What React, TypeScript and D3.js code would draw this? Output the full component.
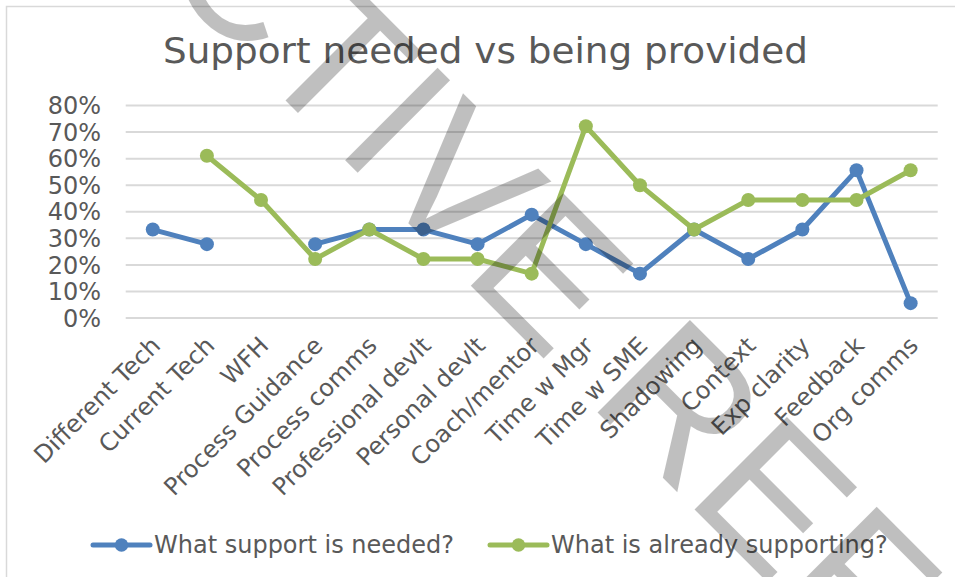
import React from "react";
import * as d3 from "d3";

const categories = [
  "Different Tech",
  "Current Tech",
  "WFH",
  "Process Guidance",
  "Process comms",
  "Professional devlt",
  "Personal devlt",
  "Coach/mentor",
  "Time w Mgr",
  "Time w SME",
  "Shadowing",
  "Context",
  "Exp clarity",
  "Feedback",
  "Org comms",
];
const needed: (number | null)[] = [
  0.333, 0.278, null, 0.278, 0.333, 0.333, 0.278, 0.389, 0.278, 0.167, 0.333, 0.222, 0.333, 0.556, 0.056,
];
const supporting: (number | null)[] = [
  null, 0.611, 0.444, 0.222, 0.333, 0.222, 0.222, 0.167, 0.722, 0.5, 0.333, 0.444, 0.444, 0.444, 0.556,
];
const yTicks = [0, 0.1, 0.2, 0.3, 0.4, 0.5, 0.6, 0.7, 0.8];
const seriesNames = ["What support is needed?", "What is already supporting?"];
const title = "Support needed vs being provided";
const watermark = "ACTIVE REFERENCE";

const W = 955;
const H = 577;
const BLUE = "#4f81bd";
const GREEN = "#9bbb59";
const TEXT = "#595959";
const FONT = "'DejaVu Sans', Verdana, sans-serif";

export default function App() {
  const x = d3.scaleBand<string>().domain(categories).range([125.7, 937.7]);
  const y = d3.scaleLinear().domain([0, 0.8]).range([318, 105.5]);
  const cx = (c: string) => (x(c) as number) + x.bandwidth() / 2;

  const line = d3
    .line<number | null>()
    .defined((d) => d !== null)
    .x((_, i) => cx(categories[i]))
    .y((d) => y(d as number));

  const series = [
    { name: seriesNames[0], values: needed, color: BLUE },
    { name: seriesNames[1], values: supporting, color: GREEN },
  ];

  const legend = [
    { lineX: 93, lineX2: 150, textX: 154 },
    { lineX: 490, lineX2: 547, textX: 551 },
  ];

  return (
    <svg
      width={W}
      height={H}
      style={{ position: "absolute", left: 0, top: 0, background: "#fff" }}
    >
      <rect x={0} y={0} width={W} height={H} fill="#fff" />
      <rect x={6.5} y={6.5} width={2000} height={2000} fill="none" stroke="#d9d9d9" strokeWidth={1.5} />
      <text
        x={163}
        y={63}
        fontFamily={FONT}
        fontSize={36}
        fill={TEXT}
        textLength={645}
        lengthAdjust="spacingAndGlyphs"
      >
        {title}
      </text>
      {yTicks.map((t) => (
        <g key={t}>
          <line x1={125.7} x2={937.7} y1={y(t)} y2={y(t)} stroke="#d9d9d9" strokeWidth={2} />
          <text
            x={101}
            y={y(t) + 8.7}
            textAnchor="end"
            fontFamily={FONT}
            fontSize={24}
            fill={TEXT}
          >
            {`${Math.round(t * 100)}%`}
          </text>
        </g>
      ))}
      {categories.map((c) => (
        <text
          key={c}
          transform={`translate(${cx(c) + 9},347) rotate(-45)`}
          textAnchor="end"
          fontFamily={FONT}
          fontSize={24}
          fill={TEXT}
        >
          {c}
        </text>
      ))}
      {series.map((s) => (
        <g key={s.name}>
          <path d={line(s.values) || ""} fill="none" stroke={s.color} strokeWidth={5} strokeLinejoin="round" strokeLinecap="round" />
          {s.values.map((v, i) =>
            v === null ? null : (
              <circle key={i} cx={cx(categories[i])} cy={y(v)} r={7} fill={s.color} />
            )
          )}
        </g>
      ))}
      {series.map((s, k) => (
        <g key={`lg-${s.name}`}>
          <line x1={legend[k].lineX} x2={legend[k].lineX2} y1={545} y2={545} stroke={s.color} strokeWidth={5} strokeLinecap="round" />
          <circle cx={(legend[k].lineX + legend[k].lineX2) / 2} cy={545} r={6.7} fill={s.color} />
          <text x={legend[k].textX} y={553} fontFamily={FONT} fontSize={24} fill={TEXT}>
            {s.name}
          </text>
        </g>
      ))}
      <text
        transform="translate(64,-121) rotate(45)"
        fontFamily="'Liberation Sans', Arial, sans-serif"
        fontSize={190}
        fill="#000"
        fillOpacity={0.25}
      >
        {watermark}
      </text>
    </svg>
  );
}
